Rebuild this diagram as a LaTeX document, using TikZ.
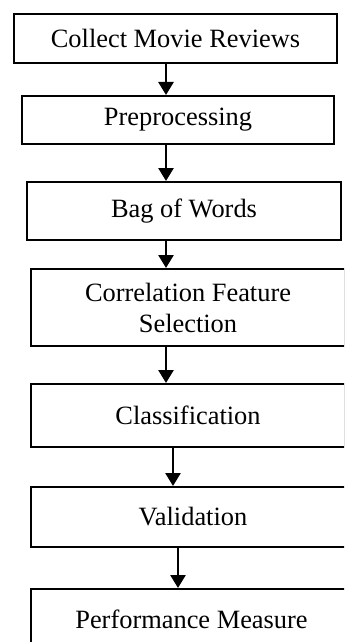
\documentclass[tikz,border=0pt]{standalone}
\usepackage{fontspec}
\setmainfont{Liberation Serif}
\usetikzlibrary{arrows.meta}

\begin{document}
\begin{tikzpicture}[x=0.5pt,y=-0.5pt,font=\fontsize{13.2}{15.5}\selectfont,
  stage/.style={draw,line width=1pt,inner sep=0pt,align=center},
  flow/.style={line width=1.35pt,-{Triangle[length=6.5pt,width=7.5pt]}}]
 \useasboundingbox (0,0) rectangle (344,642);
 \clip (0,0) rectangle (344,642);
 \node[stage,minimum width=161.5pt,minimum height=24.5pt] (collect) at (175.5,38.5) {Collect Movie Reviews};
 \node[stage,minimum width=156pt,minimum height=24pt] (prep) at (178,120) {Preprocessing};
 \node[stage,minimum width=157pt,minimum height=29pt] (bow) at (184,211) {Bag of Words};
 \node[stage,minimum width=157pt,minimum height=38.5pt] (cfs) at (188,307.5) {Correlation Feature\\Selection};
 \node[stage,minimum width=157pt,minimum height=31.5pt] (classif) at (188,415.5) {Classification};
 \node[stage,minimum width=162pt,minimum height=30pt] (valid) at (193,517) {Validation};
 \node[stage,minimum width=160.5pt,minimum height=30pt] (perf) at (191.5,619) {Performance Measure};
 \draw[flow] (collect.south -| 166,0) -- (prep.north -| 166,0);
 \draw[flow] (prep.south -| 166,0) -- (bow.north -| 166,0);
 \draw[flow] (bow.south -| 166,0) -- (cfs.north -| 166,0);
 \draw[flow] (cfs.south -| 166,0) -- (classif.north -| 166,0);
 \draw[flow] (classif.south -| 173,0) -- (valid.north -| 173,0);
 \draw[flow] (valid.south -| 178,0) -- (perf.north -| 178,0);
\end{tikzpicture}
\end{document}
